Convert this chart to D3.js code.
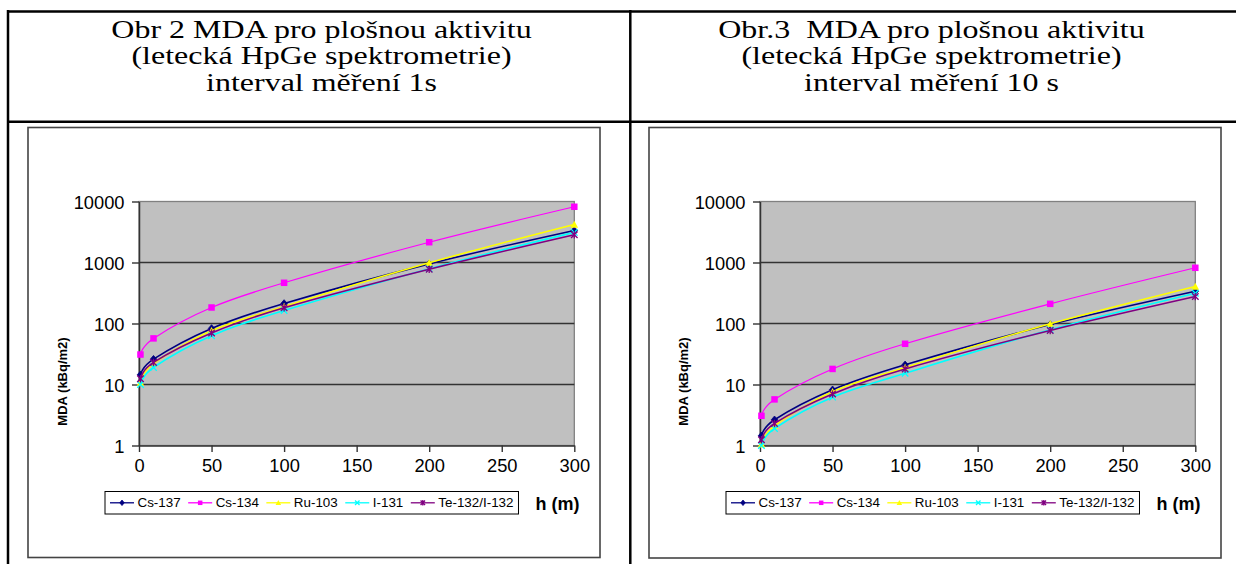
<!DOCTYPE html>
<html>
<head>
<meta charset="utf-8">
<script src="https://cdn.jsdelivr.net/npm/d3@7"></script>
<style>
  html, body { margin: 0; padding: 0; background: #fff; }
  svg { display: block; }
</style>
</head>
<body>
<svg id="page" width="1236" height="564"></svg>
<script>
// Flight heights (m)
const heights = [1, 10, 50, 100, 200, 300];

const seriesNames = ["Cs-137", "Cs-134", "Ru-103", "I-131", "Te-132/I-132"];
const seriesColors = ["#000080", "#FF00FF", "#FFFF00", "#00FFFF", "#800080"];
const seriesMarkers = ["diamond", "square", "triangle", "x", "asterisk"];

// MDA (kBq/m2), 1 s measuring interval
const mda1s_cs137 = [14.4, 26, 83, 213, 950, 3350];
const mda1s_cs134 = [31, 57, 183, 465, 2150, 8200];
const mda1s_ru103 = [10.8, 22, 76, 190, 990, 4200];
const mda1s_i131 = [10, 19, 63, 163, 790, 3120];
const mda1s_te132 = [12.4, 23, 70, 181, 775, 2850];

// MDA (kBq/m2), 10 s measuring interval
const mda10s_cs137 = [1.44, 2.64, 8.2, 21, 96, 338];
const mda10s_cs134 = [3.07, 5.7, 18, 46.5, 210, 819];
const mda10s_ru103 = [1.05, 2.1, 7.6, 19, 99, 405];
const mda10s_i131 = [1.0, 1.9, 6.2, 15.3, 79, 314];
const mda10s_te132 = [1.24, 2.3, 7.0, 18, 77, 277];

const yTicks = [1, 10, 100, 1000, 10000];
const xTicks = [0, 50, 100, 150, 200, 250, 300];

const titleLeft = ["Obr 2 MDA pro plošnou aktivitu", "(letecká HpGe spektrometrie)", "interval měření 1s"];
const titleRight = ["Obr.3  MDA pro plošnou aktivitu", "(letecká HpGe spektrometrie)", "interval měření 10 s"];
const yTitle = "MDA (kBq/m2)";
const xTitle = "h (m)";

const svg = d3.select("#page");

// ---- table frame ----
const tableG = svg.append("g").attr("stroke", "#000").attr("stroke-width", 2.5);
tableG.append("line").attr("x1", 7).attr("x2", 1236).attr("y1", 11.5).attr("y2", 11.5);
tableG.append("line").attr("x1", 7).attr("x2", 1236).attr("y1", 121.8).attr("y2", 121.8);
tableG.append("line").attr("x1", 8).attr("x2", 8).attr("y1", 10).attr("y2", 564);
tableG.append("line").attr("x1", 630.3).attr("x2", 630.3).attr("y1", 10).attr("y2", 564);

// ---- header cells ----
function header(lines, cx) {
  const g = svg.append("g");
  const baselines = [37.5, 64.3, 91];
  lines.forEach((t, i) => {
    g.append("text")
      .attr("transform", `translate(${cx},${baselines[i]}) scale(1.28,1)`)
      .attr("text-anchor", "middle")
      .attr("xml:space", "preserve")
      .style("white-space", "pre")
      .attr("font-family", "'Liberation Serif', 'Times New Roman', serif")
      .attr("font-size", 25)
      .attr("fill", "#000")
      .text(t);
  });
}
header(titleLeft, 321.5);
header(titleRight, 931.5);

// ---- marker drawing ----
function drawMarker(g, type, color, x, y, s) {
  const h = s / 2;
  if (type === "diamond") {
    g.append("path").attr("d", `M${x},${y - h - 0.5}L${x + h},${y}L${x},${y + h + 0.5}L${x - h},${y}Z`)
      .attr("fill", color).attr("stroke", color).attr("stroke-width", 0.8);
  } else if (type === "square") {
    g.append("rect").attr("x", x - h).attr("y", y - h).attr("width", s).attr("height", s)
      .attr("fill", color);
  } else if (type === "triangle") {
    g.append("path").attr("d", `M${x},${y - h - 0.5}L${x + h + 0.5},${y + h}L${x - h - 0.5},${y + h}Z`)
      .attr("fill", color);
  } else if (type === "x") {
    g.append("path").attr("d", `M${x - h},${y - h}L${x + h},${y + h}M${x - h},${y + h}L${x + h},${y - h}`)
      .attr("stroke", color).attr("stroke-width", 1.3).attr("fill", "none");
  } else if (type === "asterisk") {
    g.append("path").attr("d", `M${x - h},${y - h}L${x + h},${y + h}M${x - h},${y + h}L${x + h},${y - h}M${x},${y - h - 0.5}L${x},${y + h + 0.5}`)
      .attr("stroke", color).attr("stroke-width", 1.3).attr("fill", "none");
  }
}

// ---- one chart ----
function chart(boxX, boxY, boxW, boxH, series) {
  const g = svg.append("g").attr("transform", `translate(${boxX},${boxY})`);
  g.append("rect").attr("x", 0).attr("y", 0).attr("width", boxW).attr("height", boxH)
    .attr("fill", "#fff").attr("stroke", "#444").attr("stroke-width", 1.6);

  const plot = { left: 111, right: 546.3, top: 74, bottom: 318 };
  const x = d3.scaleLinear().domain([0, 300]).range([plot.left, plot.right]);
  const y = d3.scaleLog().domain([1, 10000]).range([plot.bottom, plot.top]);

  // plot area
  g.append("rect").attr("x", plot.left).attr("y", plot.top)
    .attr("width", plot.right - plot.left).attr("height", plot.bottom - plot.top)
    .attr("fill", "#C0C0C0").attr("stroke", "#808080").attr("stroke-width", 1.3);

  // gridlines
  g.append("g").selectAll("line").data(yTicks.slice(1, -1)).join("line")
    .attr("x1", plot.left).attr("x2", plot.right)
    .attr("y1", d => y(d)).attr("y2", d => y(d))
    .attr("stroke", "#333").attr("stroke-width", 1.4);

  // axes
  const fontAxis = "'Liberation Sans', Arial, sans-serif";
  const yAxis = g.append("g").attr("transform", `translate(${plot.left},0)`)
    .call(d3.axisLeft(y).tickValues(yTicks).tickFormat(d3.format("d")).tickSize(7).tickSizeOuter(0).tickPadding(7.5));
  const xAxis = g.append("g").attr("transform", `translate(0,${plot.bottom})`)
    .call(d3.axisBottom(x).tickValues(xTicks).tickSize(6.5).tickSizeOuter(0).tickPadding(7.5));
  [yAxis, xAxis].forEach(a => {
    a.select(".domain").attr("stroke", "#333").attr("stroke-width", 1.5);
    a.selectAll(".tick line").attr("stroke", "#333").attr("stroke-width", 1.4);
    a.selectAll(".tick text").attr("font-family", fontAxis).attr("font-size", 18.3).attr("fill", "#000");
  });
  yAxis.selectAll(".tick text").attr("dy", "0.36em");

  // series lines
  const line = d3.line()
    .x((d, i) => x(heights[i]))
    .y(d => y(d))
    .curve(d3.curveCatmullRom.alpha(0));
  series.forEach((vals, si) => {
    g.append("path").datum(vals).attr("d", line)
      .attr("fill", "none").attr("stroke", seriesColors[si])
      .attr("stroke-width", si === 1 ? 1.2 : 1.6);
    const mg = g.append("g");
    vals.forEach((v, i) => drawMarker(mg, seriesMarkers[si], seriesColors[si], x(heights[i]), y(v), 6.5));
  });

  // y title
  g.append("text")
    .attr("transform", `translate(39,254) rotate(-90)`)
    .attr("text-anchor", "middle")
    .attr("font-family", fontAxis).attr("font-weight", "bold").attr("font-size", 13)
    .text(yTitle);

  // legend
  const lg = g.append("g").attr("transform", "translate(77,364)");
  const lgBox = lg.append("rect").attr("y", 0).attr("height", 22.5)
    .attr("fill", "#fff").attr("stroke", "#000").attr("stroke-width", 1);
  let cx = 5;
  seriesNames.forEach((name, si) => {
    lg.append("line").attr("x1", cx).attr("x2", cx + 24).attr("y1", 11.3).attr("y2", 11.3)
      .attr("stroke", seriesColors[si]).attr("stroke-width", 1.3);
    drawMarker(lg, seriesMarkers[si], seriesColors[si], cx + 12, 11.3, 4.5);
    const t = lg.append("text").attr("x", cx + 27.5).attr("y", 11.3).attr("dy", "0.35em")
      .attr("font-family", fontAxis).attr("font-size", 13.4).attr("fill", "#000")
      .text(name);
    cx += 27.5 + t.node().getComputedTextLength() + 7.5;
  });
  const lgW = cx - 7.5 + 5;
  lgBox.attr("x", 0).attr("width", lgW);

  g.append("text")
    .attr("x", 77 + lgW + 17).attr("y", 382)
    .attr("font-family", fontAxis).attr("font-weight", "bold").attr("font-size", 18)
    .text(xTitle);
}

chart(28, 127.5, 572, 430, [mda1s_cs137, mda1s_cs134, mda1s_ru103, mda1s_i131, mda1s_te132]);
chart(649, 127.5, 572, 430.5, [mda10s_cs137, mda10s_cs134, mda10s_ru103, mda10s_i131, mda10s_te132]);
</script>
</body>
</html>
